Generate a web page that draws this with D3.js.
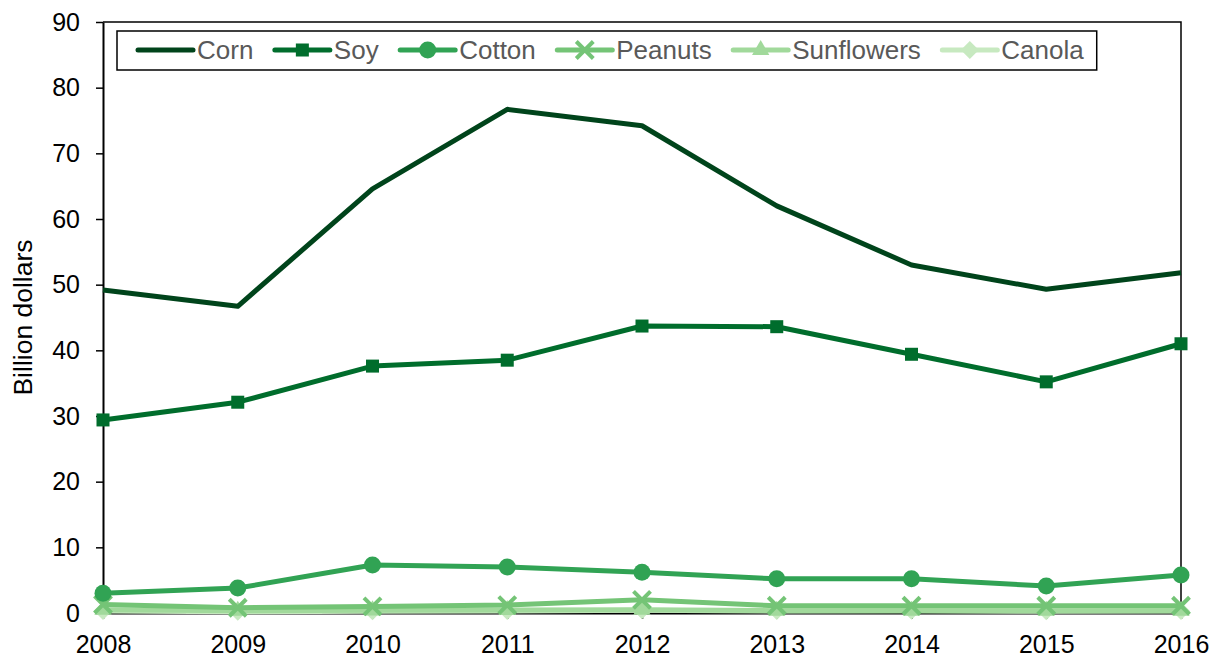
<!DOCTYPE html>
<html>
<head>
<meta charset="utf-8">
<script src="https://cdn.jsdelivr.net/npm/d3@7"></script>
<style>
  body { margin: 0; background: #fff; }
  svg { font-family: "Liberation Sans", Arial, sans-serif; }
</style>
</head>
<body>
<div id="chart"></div>
<script>
// data
const years = [2008, 2009, 2010, 2011, 2012, 2013, 2014, 2015, 2016];
const corn = [49.2, 46.7, 64.6, 76.7, 74.2, 62.0, 53.0, 49.3, 51.8];
const soy = [29.4, 32.1, 37.6, 38.5, 43.7, 43.6, 39.4, 35.2, 41.0];
const cotton = [3.0, 3.8, 7.3, 7.0, 6.2, 5.2, 5.2, 4.1, 5.8];
const peanuts = [1.3, 0.8, 1.0, 1.2, 2.0, 1.1, 1.1, 1.1, 1.1];
const sunflowers = [0.5, 0.35, 0.4, 0.45, 0.5, 0.35, 0.35, 0.35, 0.35];
const canola = [0.3, 0.2, 0.25, 0.3, 0.4, 0.3, 0.35, 0.25, 0.3];
const yTicks = [0, 10, 20, 30, 40, 50, 60, 70, 80, 90];

const series = [
  { name: "Corn", values: corn, color: "#00441b", marker: "none" },
  { name: "Soy", values: soy, color: "#006d2c", marker: "square" },
  { name: "Cotton", values: cotton, color: "#31a354", marker: "circle" },
  { name: "Peanuts", values: peanuts, color: "#74c476", marker: "x" },
  { name: "Sunflowers", values: sunflowers, color: "#a1d99b", marker: "triangle" },
  { name: "Canola", values: canola, color: "#c7e9c0", marker: "diamond" }
];

const width = 1211, height = 660;
const margin = { top: 22, right: 30, bottom: 47, left: 103 };
const innerW = width - margin.left - margin.right;
const innerH = height - margin.top - margin.bottom;

const svg = d3.select("#chart").append("svg")
    .attr("width", width)
    .attr("height", height);

const g = svg.append("g").attr("transform", `translate(${margin.left},${margin.top})`);

const x = d3.scaleLinear().domain([years[0], years[years.length - 1]]).range([0, innerW]);
const y = d3.scaleLinear().domain([0, 90]).range([innerH, 0]);

// frame (top and right)
g.append("path")
    .attr("d", `M0,0H${innerW}V${innerH}`)
    .attr("fill", "none")
    .attr("stroke", "#000")
    .attr("stroke-width", 1.5);

// y axis
const yAxis = g.append("g")
    .call(d3.axisLeft(y).tickValues(yTicks).tickSize(7).tickPadding(16).tickSizeOuter(0));
yAxis.select(".domain").attr("stroke-width", 2);
yAxis.selectAll(".tick line").attr("stroke-width", 1.5);
yAxis.selectAll("text").attr("font-size", 25).attr("fill", "#000")
    .attr("font-family", "Liberation Sans, Arial, sans-serif");

// x axis
const xAxis = g.append("g")
    .attr("transform", `translate(0,${innerH})`)
    .call(d3.axisBottom(x).tickValues(years).tickFormat(d3.format("d")).tickSize(6).tickPadding(16).tickSizeOuter(0));
xAxis.select(".domain").attr("stroke-width", 2);
xAxis.selectAll(".tick line").attr("stroke-width", 1.5);
xAxis.selectAll("text").attr("font-size", 25).attr("fill", "#000")
    .attr("font-family", "Liberation Sans, Arial, sans-serif");

// axis title
svg.append("text")
    .attr("transform", `translate(32,${margin.top + innerH / 2}) rotate(-90)`)
    .attr("text-anchor", "middle")
    .attr("font-size", 26.5)
    .attr("fill", "#000")
    .text("Billion dollars");

function drawMarker(sel, type, color) {
  if (type === "square") {
    sel.append("rect").attr("x", -6.5).attr("y", -6.5).attr("width", 13).attr("height", 13).attr("fill", color);
  } else if (type === "circle") {
    sel.append("circle").attr("r", 8.5).attr("fill", color);
  } else if (type === "x") {
    sel.append("path").attr("d", "M-8.5,-8.5L8.5,8.5M-8.5,8.5L8.5,-8.5")
        .attr("stroke", color).attr("stroke-width", 4).attr("fill", "none");
  } else if (type === "triangle") {
    sel.append("path").attr("d", d3.symbol(d3.symbolTriangle, 130)()).attr("fill", color);
  } else if (type === "diamond") {
    sel.append("path").attr("d", "M0,-9L9,0L0,9L-9,0Z").attr("fill", color);
  }
}

const line = d3.line().x((d, i) => x(years[i])).y(d => y(d));

// draw light series first so dark ones sit on top
series.slice().reverse().forEach(s => {
  const sg = g.append("g");
  sg.append("path")
      .attr("d", line(s.values))
      .attr("fill", "none")
      .attr("stroke", s.color)
      .attr("stroke-width", 5)
      .attr("stroke-linejoin", "round");
  s.values.forEach((v, i) => {
    const m = sg.append("g").attr("transform", `translate(${x(years[i])},${y(v)})`);
    drawMarker(m, s.marker, s.color);
  });
});

// legend
const legend = svg.append("g");
const legBox = legend.append("rect")
    .attr("x", 117).attr("y", 31).attr("height", 39)
    .attr("fill", "#fff").attr("stroke", "#000").attr("stroke-width", 1.5);

const gap = 21.5;
let lx = 138;
const ly = 50;
series.forEach(s => {
  const it = legend.append("g");
  it.append("line")
      .attr("x1", lx).attr("x2", lx + 55).attr("y1", ly).attr("y2", ly)
      .attr("stroke", s.color).attr("stroke-width", 5).attr("stroke-linecap", "round");
  const m = it.append("g").attr("transform", `translate(${lx + 27.5},${ly})`);
  drawMarker(m, s.marker, s.color);
  const t = it.append("text")
      .attr("x", lx + 59).attr("y", ly + 9)
      .attr("font-size", 26)
      .attr("fill", "#595959")
      .text(s.name);
  lx += 59 + t.node().getComputedTextLength() + gap;
});
legBox.attr("width", lx - gap + 13 - 117);
</script>
</body>
</html>
